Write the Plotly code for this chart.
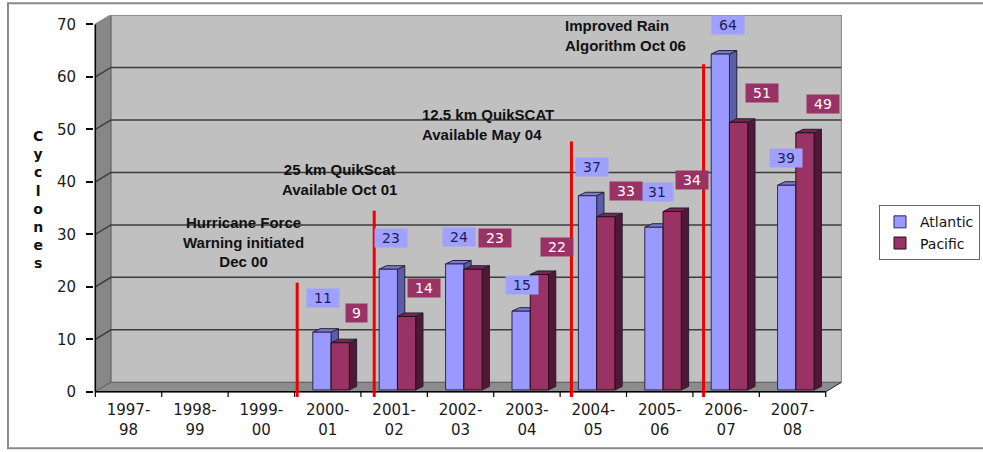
import plotly.graph_objects as go

# ---------------- data ----------------
seasons = ["1997-98", "1998-99", "1999-00", "2000-01", "2001-02", "2002-03",
           "2003-04", "2004-05", "2005-06", "2006-07", "2007-08"]
atlantic = [0, 0, 0, 11, 23, 24, 15, 37, 31, 64, 39]
pacific = [0, 0, 0, 9, 14, 23, 22, 33, 34, 51, 49]

y_ticks = [0, 10, 20, 30, 40, 50, 60, 70]

event_text = ["Hurricane Force<br>Warning initiated<br>Dec 00",
              "25 km QuikScat<br>Available Oct 01",
              "12.5 km QuikSCAT<br>Available May 04",
              "Improved Rain<br>Algorithm Oct 06"]
event_pos = [2.54, 3.70, 6.67, 8.66]      # position on category axis
event_top = [20.8, 34.5, 47.7, 62.4]      # height of marker line

# ---------------- layout / style parameters ----------------
event_label_xy = [(1.73, 28.5, "center", "center"),
                  (3.175, 40.5, "center", "center"),
                  (4.395, 51.0, "left", "left"),
                  (6.55, 67.8, "left", "left")]
atl_lbl_off = [None, None, None, (-0.07, 6.9), (-0.04, 6.3), (-0.03, 5.5), (-0.07, 5.3),
               (-0.015, 5.8), (-0.036, 7.1), (0.033, 5.9), (-0.093, 5.5)]
pac_lbl_off = [None, None, None, (0.43, 6.0), (0.455, 5.8), (0.52, 6.3), (0.458, 5.6),
               (0.497, 5.3), (0.49, 6.4), (0.545, 5.9), (0.46, 5.8)]

WDX, WDY = 0.235, 1.8        # wall depth
BDX, BDY = 0.11, 0.67        # bar depth
BASE = 0.35
BW = 0.275
OFF_A, OFF_P = -0.225, 0.05

ATL = dict(front="#9999ff", side="#5c5ca8", top="#7a7ad0", lbl_bg="#a0a0ff", lbl_fg="#1c1c5a")
PAC = dict(front="#993366", side="#521637", top="#7a2652", lbl_bg="#993366", lbl_fg="#ffffff")

n = len(seasons)
xmin, xmax = -0.5, n - 0.5

fig = go.Figure()

shapes = []
shapes.append(dict(type="rect", xref="x", yref="y", x0=xmin + WDX, x1=xmax + WDX,
                   y0=WDY, y1=y_ticks[-1] + WDY, fillcolor="#c0c0c0",
                   line=dict(color="#808080", width=1), layer="below"))
shapes.append(dict(type="path", xref="x", yref="y",
                   path=f"M{xmin},0 L{xmin},{y_ticks[-1]} L{xmin+WDX},{y_ticks[-1]+WDY} L{xmin+WDX},{WDY} Z",
                   fillcolor="#878787", line=dict(color="#606060", width=1), layer="below"))
shapes.append(dict(type="path", xref="x", yref="y",
                   path=f"M{xmin},0 L{xmax},0 L{xmax+WDX},{WDY} L{xmin+WDX},{WDY} Z",
                   fillcolor="#8c8c8c", line=dict(color="#606060", width=1), layer="below"))
for v in y_ticks[1:]:
    col = "#8a8a8a" if v == y_ticks[-1] else "#3c3c3c"
    shapes.append(dict(type="path", xref="x", yref="y",
                       path=f"M{xmin},{v} L{xmin+WDX},{v+WDY} L{xmax+WDX},{v+WDY}",
                       line=dict(color=col, width=1.5), layer="below"))

def faces(vals, off, c):
    for i, v in enumerate(vals):
        if not v:
            continue
        x0 = i + off
        x1 = x0 + BW
        b = BASE
        t = BASE + v
        shapes.append(dict(type="path", xref="x", yref="y",
                           path=f"M{x1},{b} L{x1},{t} L{x1+BDX},{t+BDY} L{x1+BDX},{b+BDY} Z",
                           fillcolor=c["side"], line=dict(color="#222233", width=1), layer="below"))
        shapes.append(dict(type="path", xref="x", yref="y",
                           path=f"M{x0},{t} L{x1},{t} L{x1+BDX},{t+BDY} L{x0+BDX},{t+BDY} Z",
                           fillcolor=c["top"], line=dict(color="#222233", width=1), layer="below"))

faces(atlantic, OFF_A, ATL)
faces(pacific, OFF_P, PAC)

shapes.append(dict(type="line", xref="x", yref="y", x0=xmin, x1=xmin, y0=0, y1=y_ticks[-1],
                   line=dict(color="#000000", width=1.5), layer="above"))
shapes.append(dict(type="line", xref="x", yref="y", x0=xmin, x1=xmax, y0=0, y1=0,
                   line=dict(color="#000000", width=1.5), layer="above"))
shapes.append(dict(type="line", xref="x", yref="y", x0=xmax, x1=xmax + WDX, y0=0, y1=WDY,
                   line=dict(color="#404040", width=1), layer="above"))
for i in range(n + 1):
    shapes.append(dict(type="line", xref="x", yref="y", x0=i - 0.5, x1=i - 0.5, y0=0, y1=-1,
                       line=dict(color="#000000", width=1.2), layer="above"))

for xp, yt in zip(event_pos, event_top):
    shapes.append(dict(type="line", xref="x", yref="y", x0=xp, x1=xp, y0=-1, y1=yt,
                       line=dict(color="#ee0000", width=3), layer="above"))

shapes.append(dict(type="rect", xref="paper", yref="paper",
                   x0=-0.115, x1=1.25, y0=-0.134, y1=1.031,
                   line=dict(color="#8a8a8a", width=2), layer="below"))

fig.add_trace(go.Bar(name="Atlantic", x=list(range(n)),
                     y=[v if v else None for v in atlantic], base=BASE,
                     width=BW, offset=OFF_A,
                     marker=dict(color=ATL["front"], line=dict(color="#2a2a50", width=1))))
fig.add_trace(go.Bar(name="Pacific", x=list(range(n)),
                     y=[v if v else None for v in pacific], base=BASE,
                     width=BW, offset=OFF_P,
                     marker=dict(color=PAC["front"], line=dict(color="#2a0a1a", width=1))))

annotations = []
for vals, offs, c in ((atlantic, atl_lbl_off, ATL), (pacific, pac_lbl_off, PAC)):
    for i, (v, o) in enumerate(zip(vals, offs)):
        if not v or o is None:
            continue
        txt = str(v)
        annotations.append(dict(x=i + o[0], y=v + o[1], xref="x", yref="y", text=txt,
                                showarrow=False, bgcolor=c["lbl_bg"],
                                width=11 * len(txt) + 10, height=18, borderpad=0,
                                font=dict(family="DejaVu Sans", size=14, color=c["lbl_fg"])))
for txt, (ex, ey, xa, al) in zip(event_text, event_label_xy):
    annotations.append(dict(x=ex, y=ey, xref="x", yref="y", text=f"<b>{txt}</b>",
                            showarrow=False, xanchor=xa, align=al, yanchor="middle",
                            font=dict(family="Liberation Sans", size=15, color="#111111")))
annotations.append(dict(x=-0.075, y=0.516, xref="paper", yref="paper",
                        text="<b>" + "<br>".join("Cyclones") + "</b>",
                        showarrow=False, xanchor="center", yanchor="middle",
                        font=dict(family="DejaVu Sans", size=14, color="#111111")))

fig.update_layout(
    width=983, height=452,
    margin=dict(l=94, r=141, t=15, b=55, autoexpand=False),
    paper_bgcolor="#ffffff", plot_bgcolor="#ffffff",
    barmode="overlay",
    shapes=shapes, annotations=annotations,
    showlegend=True,
    legend=dict(x=1.1845, y=0.43, xanchor="right", yanchor="middle",
                bordercolor="#666666", borderwidth=1, bgcolor="#ffffff",
                font=dict(family="DejaVu Sans", size=14, color="#111111"),
                itemwidth=30, tracegroupgap=0),
    xaxis=dict(range=[xmin - 0.02, 10.745], tickmode="array", tickvals=list(range(n)),
               ticktext=[s.replace("-", "-<br>") for s in seasons],
               showgrid=False, zeroline=False, showline=False, ticks="",
               automargin=False, ticklabelstandoff=2,
               tickfont=dict(family="DejaVu Sans", size=15, color="#1a1a1a")),
    yaxis=dict(range=[-1, y_ticks[-1] + WDY], tickmode="array", tickvals=y_ticks,
               showgrid=False, zeroline=False, showline=False,
               ticks="outside", ticklen=7, tickwidth=1.5, tickcolor="#000000",
               automargin=False, ticklabelstandoff=7,
               tickfont=dict(family="DejaVu Sans", size=15, color="#1a1a1a")),
)

fig.write_html("out.html", config={"displayModeBar": False},
               post_script="document.body.style.margin='0px';document.body.style.overflow='hidden';")
